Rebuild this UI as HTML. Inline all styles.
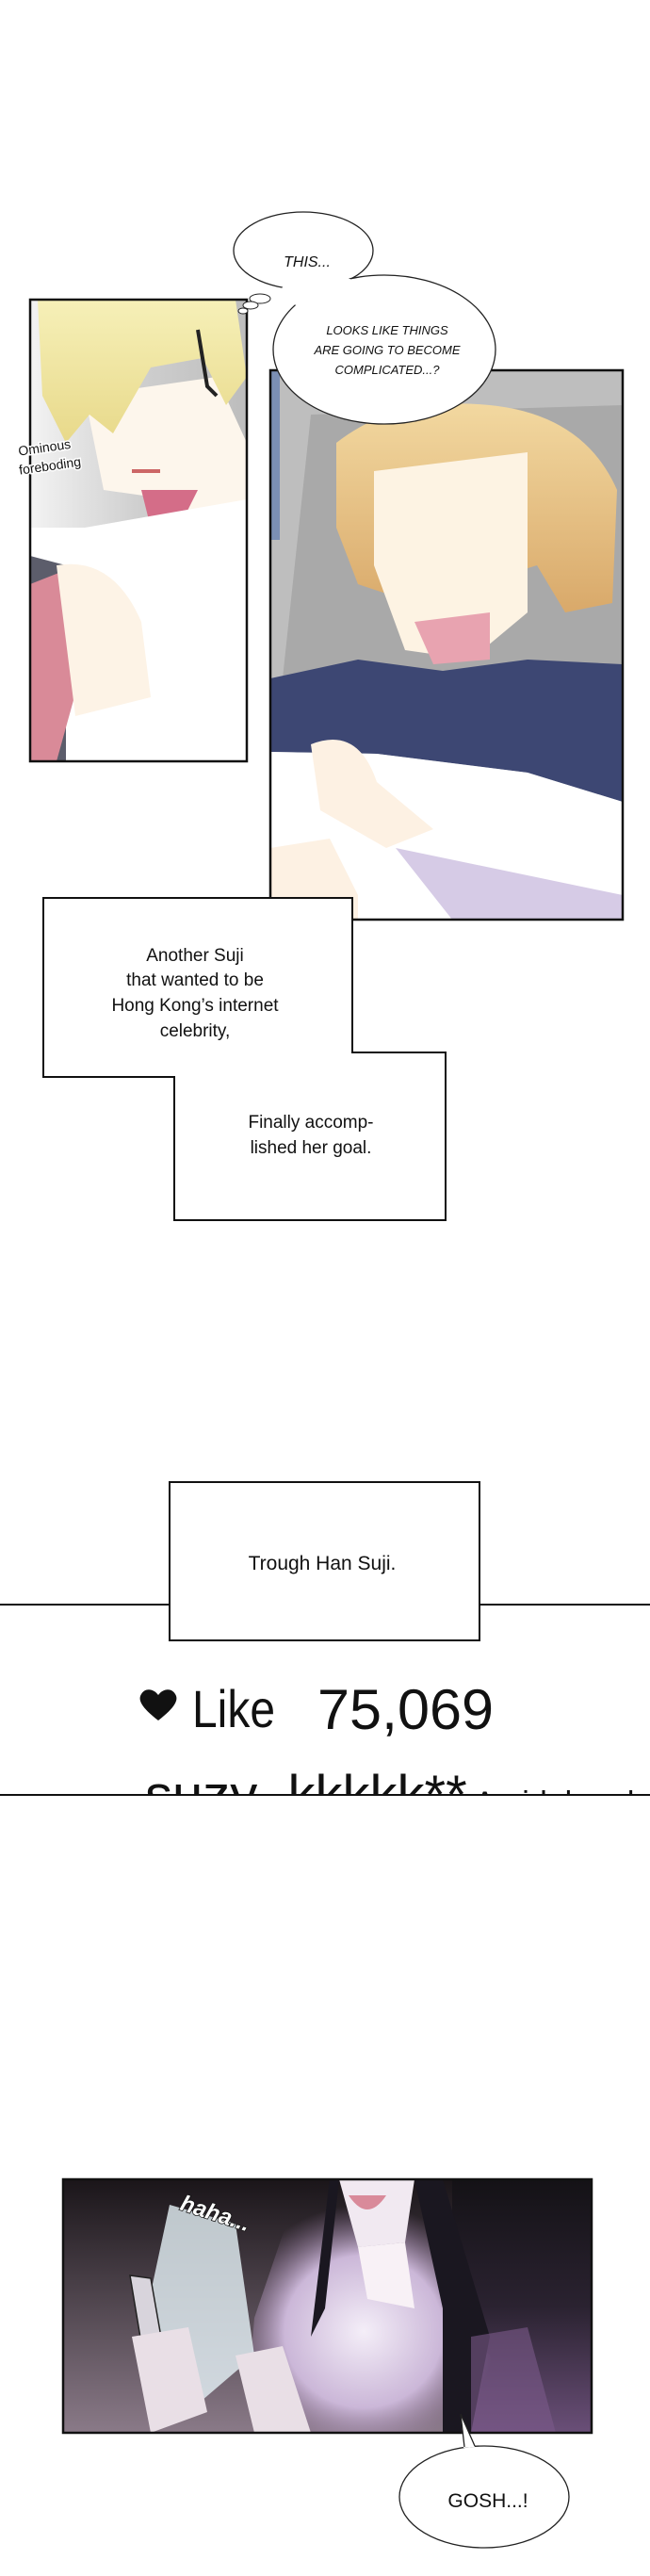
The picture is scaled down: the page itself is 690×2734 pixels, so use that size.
<!DOCTYPE html>
<html><head><meta charset="utf-8"><style>
html,body{margin:0;padding:0;background:#fff;}
body{width:690px;height:2734px;position:relative;overflow:hidden;}
svg{position:absolute;left:0;top:0;}
</style></head><body>
<svg width="690" height="2734" viewBox="0 0 690 2734" xmlns="http://www.w3.org/2000/svg" font-family="Liberation Sans, sans-serif">
<defs>
<linearGradient id="lbg" x1="0" y1="0" x2="1" y2="0"><stop offset="0" stop-color="#f3f3f3"/><stop offset="0.5" stop-color="#cfcfcf"/><stop offset="1" stop-color="#bdbdbd"/></linearGradient>
<linearGradient id="hairL" x1="0" y1="0" x2="0" y2="1"><stop offset="0" stop-color="#f6f0b8"/><stop offset="1" stop-color="#e8d98a"/></linearGradient>
<linearGradient id="hairR" x1="0" y1="0" x2="0" y2="1"><stop offset="0" stop-color="#f2d8a0"/><stop offset="1" stop-color="#d9a96a"/></linearGradient>
<linearGradient id="dark" x1="0" y1="0" x2="0" y2="1"><stop offset="0" stop-color="#1a1519"/><stop offset="1" stop-color="#8a7a88"/></linearGradient>
<linearGradient id="darkR" x1="0" y1="0" x2="0" y2="1"><stop offset="0" stop-color="#141216"/><stop offset="0.5" stop-color="#2a2230"/><stop offset="1" stop-color="#6a4f78"/></linearGradient>
<radialGradient id="glow" cx="0.45" cy="0.6" r="0.5"><stop offset="0" stop-color="#f4eef8"/><stop offset="0.6" stop-color="#cbb7d8"/><stop offset="1" stop-color="#8d7095" stop-opacity="0"/></radialGradient>
<clipPath id="cL"><rect x="32" y="318" width="230" height="490"/></clipPath>
<clipPath id="cR"><rect x="287" y="393" width="374" height="583"/></clipPath>
<clipPath id="cB"><rect x="67" y="2313" width="561" height="269"/></clipPath>
<clipPath id="cS"><rect x="0" y="1840" width="690" height="64"/></clipPath>
</defs>

<!-- Left panel -->
<g clip-path="url(#cL)">
<rect x="32" y="318" width="230" height="490" fill="url(#lbg)"/>
<rect x="32" y="560" width="230" height="250" fill="#ffffff"/>
<path d="M32 590 L70 600 L70 808 L32 808Z" fill="#5c5d6b"/>
<path d="M32 620 L70 605 L90 700 L60 808 L32 808Z" fill="#d98a98"/>
<path d="M90 420 L230 400 L262 470 L262 560 L200 560 L180 530 L110 520Z" fill="#fdf6ec"/>
<path d="M150 520 L210 520 L190 560 L160 560Z" fill="#d46d88"/>
<path d="M90 560 L262 530 L262 808 L90 808Z" fill="#ffffff"/>
<path d="M60 600 Q120 590 150 660 L160 740 L80 760 Z" fill="#fdf3e6"/>
<path d="M40 318 L250 318 L262 400 L240 430 L215 380 L160 390 L120 460 L95 440 L70 470 L45 420 Z" fill="url(#hairL)"/>
<path d="M210 350 L220 410 L230 420" stroke="#222" stroke-width="4" fill="none"/>
<path d="M140 500 L170 500" stroke="#c66" stroke-width="4"/>
</g>
<rect x="32" y="318" width="230" height="490" fill="none" stroke="#111" stroke-width="2.5"/>

<!-- Right panel -->
<g clip-path="url(#cR)">
<rect x="287" y="393" width="374" height="583" fill="#bebebe"/>
<rect x="287" y="393" width="10" height="180" fill="#7b8fb4"/>
<path d="M330 440 L661 430 L661 720 L300 720 Z" fill="#a9a9a9"/>
<path d="M357 470 Q420 420 520 430 Q620 440 655 520 L650 640 L600 650 L570 600 L440 640 L380 620 L357 560 Z" fill="url(#hairR)"/>
<path d="M397 500 L560 480 L560 650 L500 700 L430 690 L397 600 Z" fill="#fdf3e3"/>
<path d="M440 660 L520 650 L520 700 L460 705Z" fill="#e8a3b0"/>
<path d="M287 720 L380 700 L470 712 L560 700 L661 705 L661 851 L560 820 L400 800 L287 798 Z" fill="#3d4773"/>
<path d="M287 798 L400 800 L560 820 L661 851 L661 976 L287 976 Z" fill="#ffffff"/>
<path d="M330 790 Q380 770 400 830 L460 880 L410 900 L340 860 Z" fill="#fdf1e3"/>
<path d="M287 900 L350 890 L380 950 L380 976 L287 976Z" fill="#fdf1e3"/>
<path d="M420 900 L661 950 L661 976 L480 976 Z" fill="#d6cbe6"/>
</g>
<rect x="287" y="393" width="374" height="583" fill="none" stroke="#111" stroke-width="2.5"/>

<!-- Thought bubbles -->
<ellipse cx="322" cy="266" rx="74" ry="41" fill="#fff" stroke="#222" stroke-width="1.3"/>
<ellipse cx="408" cy="371" rx="118" ry="79" fill="#fff" stroke="#222" stroke-width="1.3"/>
<ellipse cx="343" cy="310" rx="45" ry="18" fill="#fff"/>
<ellipse cx="276" cy="317" rx="11" ry="5" fill="#fff" stroke="#222" stroke-width="1"/>
<ellipse cx="266" cy="324" rx="8" ry="4" fill="#fff" stroke="#222" stroke-width="1"/>
<ellipse cx="258" cy="330" rx="5" ry="3" fill="#fff" stroke="#222" stroke-width="1"/>
<text x="326" y="283" font-size="16" font-style="italic" text-anchor="middle" fill="#111">THIS...</text>
<g font-size="13" font-style="italic" text-anchor="middle" fill="#111">
<text x="411" y="355">LOOKS LIKE THINGS</text>
<text x="411" y="376">ARE GOING TO BECOME</text>
<text x="411" y="397">COMPLICATED...?</text>
</g>
<g font-size="14" fill="#111" stroke="#fff" stroke-width="3" paint-order="stroke" transform="rotate(-8 60 480)">
<text x="20" y="478">Ominous</text>
<text x="18" y="498">foreboding</text>
</g>

<!-- Narration boxes -->
<path d="M46 953 L374 953 L374 1117 L473 1117 L473 1295 L185 1295 L185 1143 L46 1143 Z" fill="#fff" stroke="#111" stroke-width="2"/>
<g font-size="19" text-anchor="middle" fill="#111">
<text x="207" y="1020">Another Suji</text>
<text x="207" y="1046">that wanted to be</text>
<text x="207" y="1073">Hong Kong’s internet</text>
<text x="207" y="1100">celebrity,</text>
<text x="330" y="1197">Finally accomp-</text>
<text x="330" y="1224">lished her goal.</text>
</g>

<!-- Trough box -->
<line x1="0" y1="1703" x2="690" y2="1703" stroke="#111" stroke-width="2"/>
<rect x="180" y="1573" width="329" height="168" fill="#fff" stroke="#111" stroke-width="2"/>
<text x="342" y="1666" font-size="21" text-anchor="middle" fill="#111">Trough Han Suji.</text>

<!-- Like row -->
<path d="M168 1826 C150 1812 146 1804 150 1798 C154 1791 163 1792 168 1799 C173 1792 182 1791 186 1798 C190 1804 186 1812 168 1826Z" fill="#111"/>
<text x="204" y="1833" font-size="56" fill="#111" textLength="88" lengthAdjust="spacingAndGlyphs">Like</text>
<text x="337" y="1835" font-size="60" fill="#111" textLength="187" lengthAdjust="spacingAndGlyphs">75,069</text>
<g clip-path="url(#cS)">
<text x="154" y="1925" font-size="58" fill="#111">suzy_kkkkk**<tspan font-size="34"> An idol and an</tspan></text>
</g>
<line x1="0" y1="1905" x2="690" y2="1905" stroke="#111" stroke-width="2"/>

<!-- Bottom panel -->
<g clip-path="url(#cB)">
<rect x="67" y="2313" width="561" height="269" fill="url(#dark)"/>
<rect x="480" y="2313" width="148" height="269" fill="url(#darkR)"/>
<path d="M320 2313 L480 2313 L470 2450 L520 2500 L540 2582 L260 2582 L270 2460 Z" fill="url(#glow)"/>
<path d="M360 2313 L440 2313 L430 2380 L380 2385 Z" fill="#f1e9f1"/>
<path d="M370 2330 Q390 2360 410 2330 Z" fill="#d98a9a"/>
<path d="M380 2385 L430 2380 L440 2450 L390 2440 Z" fill="#f8f1f6"/>
<path d="M440 2313 L470 2313 L520 2480 L500 2582 L470 2582 L470 2450 Z" fill="#1a1720"/>
<path d="M350 2313 L360 2313 L345 2450 L330 2480 Z" fill="#1a1720"/>
<path d="M180 2340 L250 2360 L270 2500 L200 2560 L150 2480 Z" fill="#e6f2f7" opacity="0.8"/>
<path d="M138 2415 L160 2418 L185 2560 L163 2565 Z" fill="#d8d4dc" stroke="#222" stroke-width="1.5"/>
<path d="M140 2480 L200 2470 L220 2560 L160 2582 Z" fill="#e9dfe6"/>
<path d="M250 2500 L300 2490 L330 2582 L270 2582 Z" fill="#e9dfe6"/>
<path d="M500 2480 L560 2470 L590 2582 L500 2582 Z" fill="#7c5a8a" opacity="0.6"/>
</g>
<rect x="67" y="2313" width="561" height="269" fill="none" stroke="#111" stroke-width="2.5"/>
<text x="190" y="2345" font-size="24" font-style="italic" font-weight="bold" fill="#fff" stroke="#111" stroke-width="1.5" paint-order="stroke" transform="rotate(18 190 2345)">haha...</text>

<!-- GOSH bubble -->
<ellipse cx="514" cy="2650" rx="90" ry="54" fill="#fff" stroke="#222" stroke-width="1.3"/>
<path d="M489 2562 L492 2598 L504 2597 Z" fill="#fff"/>
<path d="M489 2562 L493 2597 M489 2562 L504 2596" stroke="#222" stroke-width="1.3" fill="none"/>
<text x="518" y="2661" font-size="21" text-anchor="middle" fill="#111">GOSH...!</text>
</svg>
</body></html>
